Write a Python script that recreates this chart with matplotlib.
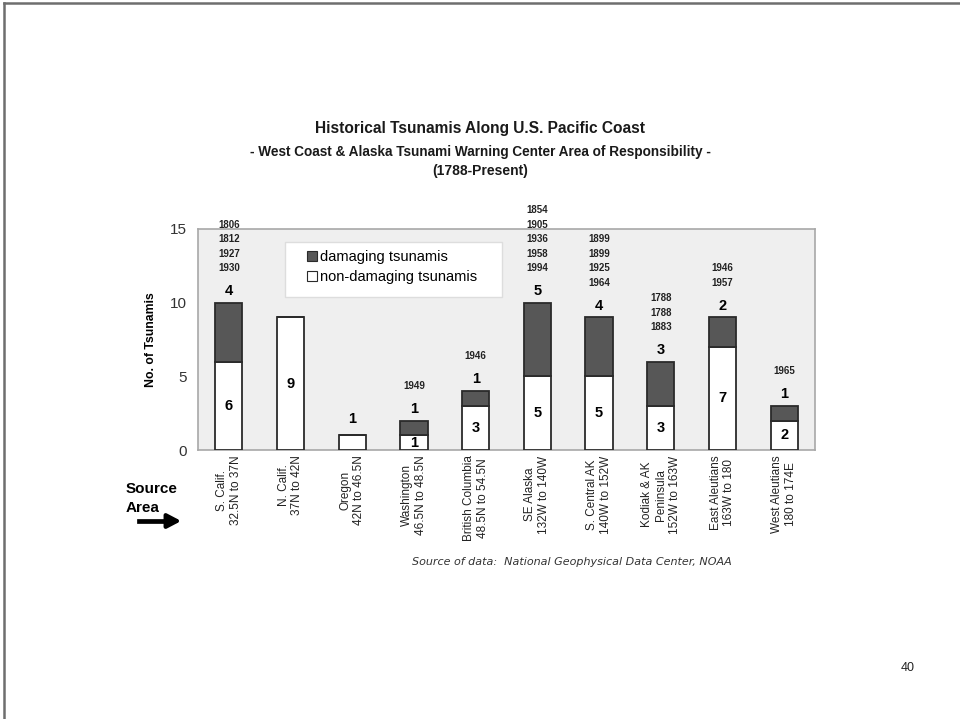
import matplotlib.pyplot as plt
from matplotlib.lines import Line2D
from matplotlib.patches import Rectangle
import numpy as np

plt.rcParams['font.family'] = ['Liberation Sans', 'DejaVu Sans']

# Zonas de origen y recuento de tsunamis por zona
zonas = ["S. Calif.\n32.5N to 37N", "N. Calif.\n37N to 42N", "Oregon\n42N to 46.5N",
         "Washington\n46.5N to 48.5N", "British Columbia\n48.5N to 54.5N",
         "SE Alaska\n132W to 140W", "S. Central AK\n140W to 152W",
         "Kodiak & AK\nPeninsula\n152W to 163W", "East Aleutians\n163W to 180",
         "West Aleutians\n180 to 174E"]
no_danino = [6, 9, 1, 1, 3, 5, 5, 3, 7, 2]
danino = [4, 0, 0, 1, 1, 5, 4, 3, 2, 1]
anios = [["1806", "1812", "1927", "1930"], [], [], ["1949"], ["1946"],
         ["1854", "1905", "1936", "1958", "1994"], ["1899", "1899", "1925", "1964"],
         ["1788", "1788", "1883"], ["1946", "1957"], ["1965"]]

fig = plt.figure(figsize=(9.6, 7.19), dpi=100)

# marco de la diapositiva (solo arriba e izquierda)
fig.add_artist(Line2D([3.5 / 960, 3.5 / 960], [0, 1 - 2.5 / 719], color="#6e6e6e", lw=1.8))
fig.add_artist(Line2D([3.5 / 960, 1], [1 - 2.5 / 719, 1 - 2.5 / 719], color="#6e6e6e", lw=1.8))

ax = fig.add_axes([198 / 960, 1 - 450 / 719, 617 / 960, 221 / 719])
ax.set_facecolor("#efefef")
for s in ax.spines.values():
    s.set_color("#a8a8a8")
    s.set_linewidth(1.2)

x = np.arange(len(zonas))
ancho = 0.44
ax.bar(x, no_danino, ancho, color="white", edgecolor="#2a2a2a", linewidth=1.3,
       label="non-damaging tsunamis", zorder=3)
ax.bar(x, danino, ancho, bottom=no_danino, color="#575757", edgecolor="#2a2a2a",
       linewidth=1.3, label="damaging tsunamis", zorder=3)

for i in range(len(zonas)):
    total = no_danino[i] + danino[i]
    if danino[i] > 0:
        ax.text(x[i], no_danino[i] / 2, str(no_danino[i]), ha="center", va="center",
                fontsize=10.5, fontweight="bold", zorder=4)
        ax.text(x[i], total + 0.8, str(danino[i]), ha="center", va="center",
                fontsize=10.5, fontweight="bold")
    elif no_danino[i] > 1:
        ax.text(x[i], no_danino[i] / 2, str(no_danino[i]), ha="center", va="center",
                fontsize=10.5, fontweight="bold", zorder=4)
    else:
        ax.text(x[i], total + 1.1, str(no_danino[i]), ha="center", va="center",
                fontsize=10.5, fontweight="bold")
    # años de los tsunamis dañinos, de abajo hacia arriba
    for k, a in enumerate(reversed(anios[i])):
        ax.text(x[i], total + 2.35 + k * 0.98, a, ha="center", va="center",
                fontsize=7, fontweight="bold", color="#222222", clip_on=False)

ax.set_xlim(-0.5, len(zonas) - 0.5)
ax.set_ylim(0, 15)
ax.set_yticks([0, 5, 10, 15])
ax.tick_params(axis="y", labelsize=11, length=0, pad=8, labelcolor="#333333")
ax.set_xticks(x)
ax.set_xticklabels(zonas, rotation=90, fontsize=8.5, ha="center", va="top",
                   multialignment="center", color="#222222")
ax.tick_params(axis="x", length=0, pad=4)
ax.set_ylabel("No. of Tsunamis", fontsize=8.8, fontweight="bold", labelpad=9)

# recuadro blanco de la leyenda
ax.add_patch(Rectangle(((285 - 198) / 617, (450 - 297) / 221), 217 / 617, 55 / 221,
                       transform=ax.transAxes, facecolor="white", edgecolor="#dddddd",
                       linewidth=1.0, zorder=2))
h, l = ax.get_legend_handles_labels()
leg = ax.legend(h[::-1], l[::-1], loc="upper left",
                bbox_to_anchor=((307 - 198) / 617, (450 - 250) / 221),
                fontsize=10.5, frameon=False, handlelength=0.7, handleheight=0.7,
                handletextpad=0.2, borderpad=0, labelspacing=0.4, borderaxespad=0)
for p in leg.get_patches():
    p.set_linewidth(0.8)

fig.text(0.5, 1 - 128 / 719, "Historical Tsunamis Along U.S. Pacific Coast",
         ha="center", va="center", fontsize=11.2, fontweight="bold", color="#1a1a1a")
fig.text(0.5, 1 - 152 / 719,
         "- West Coast & Alaska Tsunami Warning Center Area of Responsibility -",
         ha="center", va="center", fontsize=9.8, fontweight="bold", color="#1a1a1a")
fig.text(0.5, 1 - 171 / 719, "(1788-Present)", ha="center", va="center",
         fontsize=10, fontweight="bold", color="#1a1a1a")

fig.text(126 / 960, 1 - 489 / 719, "Source", ha="left", va="center", fontsize=11,
         fontweight="bold")
fig.text(126 / 960, 1 - 508 / 719, "Area", ha="left", va="center", fontsize=11,
         fontweight="bold")
fig.add_artist(Line2D([139 / 960, 168 / 960], [1 - 521 / 719, 1 - 521 / 719],
                      color="black", lw=3.4))
ax.annotate("", xy=(184 / 960, 1 - 521 / 719), xytext=(164 / 960, 1 - 521 / 719),
            xycoords="figure fraction",
            arrowprops=dict(arrowstyle="-|>,head_length=0.8,head_width=0.42",
                            color="black", lw=3.0))

fig.text(412 / 960, 1 - 562 / 719,
         "Source of data:  National Geophysical Data Center, NOAA",
         ha="left", va="center", fontsize=8, style="italic", color="#333333",
         family="DejaVu Sans")
fig.text(908 / 960, 1 - 668 / 719, "40", ha="center", va="center", fontsize=9,
         color="#222222")

fig.savefig("out.png", dpi=100)
